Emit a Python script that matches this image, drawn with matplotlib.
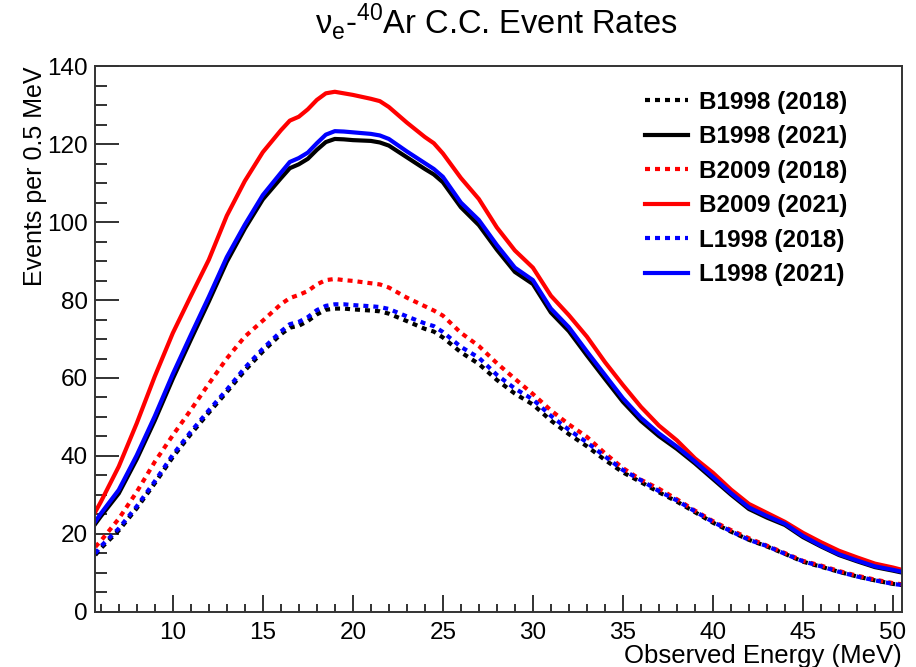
import matplotlib
matplotlib.use('Agg')
import matplotlib.pyplot as plt
from matplotlib.ticker import MultipleLocator

plt.rcParams['font.family'] = ['Liberation Sans', 'DejaVu Sans']
plt.rcParams['mathtext.fontset'] = 'custom'
plt.rcParams['mathtext.rm'] = 'Liberation Sans'

# observed energy (MeV)
energy = [5.7, 6, 7, 8, 9, 10, 11, 12, 13, 14, 15, 16, 16.5, 17, 17.5, 18, 18.5, 19, 19.5, 20,
          21, 21.5, 22, 23, 24, 24.5, 25, 26, 27, 28, 29, 30, 31, 32, 33, 34, 35, 36, 37, 38,
          39, 40, 41, 42, 43, 44, 45, 46, 47, 48, 49, 50, 50.5]

b1998_2018 = [14.6, 16.3, 20.9, 26.6, 33.0, 39.7, 45.6, 51.1, 56.4, 61.9, 66.8, 71.2, 72.9, 73.4, 74.6, 76.3, 77.5, 77.8, 77.8, 77.6,
              77.3, 77.1, 76.5, 74.6, 72.6, 71.9, 70.4, 66.6, 63.6, 59.5, 56.0, 53.2, 49.1, 45.6, 42.5, 39.0, 35.8, 33.3, 30.7, 28.3,
              25.6, 22.9, 20.6, 18.5, 16.8, 14.9, 12.9, 11.6, 10.3, 9.1, 8.1, 7.2, 6.9]
b1998_2021 = [22.6, 24.5, 30.4, 39.2, 49.1, 59.8, 69.8, 79.6, 89.8, 98.3, 105.8, 111.2, 113.8, 114.8, 116.2, 118.5, 120.5, 121.3, 121.2, 121.0,
              120.8, 120.4, 119.6, 116.6, 113.6, 112.2, 110.2, 103.8, 99.2, 92.9, 87.2, 84.1, 76.8, 72.0, 65.8, 59.8, 53.9, 49.0, 45.1, 41.8,
              38.1, 34.1, 30.1, 26.4, 24.2, 22.3, 19.2, 16.8, 14.6, 13.0, 11.5, 10.6, 10.1]
b2009_2018 = [16.7, 18.2, 23.9, 30.8, 38.5, 45.3, 51.8, 58.5, 65.0, 70.6, 74.7, 78.9, 80.5, 81.3, 82.3, 84.0, 85.1, 85.4, 85.1, 84.9,
              84.3, 84.0, 83.2, 80.6, 78.4, 77.3, 76.0, 71.6, 68.2, 63.8, 59.8, 55.9, 51.7, 48.1, 44.9, 40.7, 36.9, 33.9, 31.6, 28.9,
              26.0, 23.3, 21.0, 18.9, 17.0, 15.1, 13.1, 11.9, 10.5, 9.3, 8.3, 7.4, 7.1]
b2009_2021 = [25.7, 28.2, 37.3, 48.4, 60.4, 71.5, 81.0, 90.3, 101.6, 110.5, 117.9, 123.5, 126.0, 127.0, 128.9, 131.3, 133.0, 133.4, 133.0, 132.6,
              131.6, 131.0, 129.5, 125.5, 121.8, 120.2, 117.6, 111.3, 105.9, 98.6, 92.7, 88.3, 81.1, 76.1, 70.6, 64.1, 58.2, 52.6, 47.8, 44.0,
              39.4, 35.7, 31.4, 27.7, 25.4, 23.1, 20.3, 17.9, 15.7, 14.0, 12.4, 11.4, 10.8]
l1998_2018 = [15.0, 16.8, 21.4, 27.1, 33.5, 40.3, 46.2, 51.7, 57.0, 62.6, 67.5, 71.9, 73.8, 74.4, 75.6, 77.4, 78.5, 78.9, 78.9, 78.7,
              78.4, 78.2, 77.7, 75.8, 74.0, 73.3, 71.8, 68.0, 65.2, 60.8, 57.3, 54.5, 50.3, 46.7, 43.5, 39.9, 36.4, 33.8, 31.0, 28.6,
              25.8, 23.1, 20.7, 18.5, 16.9, 14.9, 13.0, 11.7, 10.3, 9.1, 8.1, 7.2, 6.9]
l1998_2021 = [23.2, 25.2, 31.3, 40.2, 50.2, 61.0, 71.0, 80.8, 91.0, 99.3, 106.9, 112.6, 115.4, 116.4, 117.8, 120.2, 122.4, 123.3, 123.2, 123.0,
              122.6, 122.2, 121.3, 118.1, 115.1, 113.6, 111.6, 105.0, 100.5, 94.1, 88.3, 85.1, 77.8, 73.0, 66.8, 60.8, 54.8, 49.8, 45.8, 42.4,
              38.6, 34.6, 30.5, 26.8, 24.6, 22.6, 19.5, 17.0, 14.8, 13.2, 11.7, 10.8, 10.3]

series = [
    ('B1998 (2018)', b1998_2018, 'black', 'dot'),
    ('B1998 (2021)', b1998_2021, 'black', 'solid'),
    ('B2009 (2018)', b2009_2018, 'red', 'dot'),
    ('B2009 (2021)', b2009_2021, 'red', 'solid'),
    ('L1998 (2018)', l1998_2018, 'blue', 'dot'),
    ('L1998 (2021)', l1998_2021, 'blue', 'solid'),
]

fig = plt.figure(figsize=(9.16, 6.67), dpi=100)
ax = fig.add_axes([0.1037, 0.0825, 0.8810, 0.8185])

for label, vals, col, style in series:
    ls = (0, (1.2, 1.2)) if style == 'dot' else '-'
    ax.plot(energy, vals, color=col, lw=3, linestyle=ls, label=label)

ax.set_xlim(5.68, 50.5)
ax.set_ylim(0, 140)

ax.xaxis.set_major_locator(MultipleLocator(5))
ax.xaxis.set_minor_locator(MultipleLocator(1))
ax.yaxis.set_major_locator(MultipleLocator(20))
ax.yaxis.set_minor_locator(MultipleLocator(5))
ax.tick_params(axis='both', which='both', direction='in', top=False, right=False,
               labelsize=17.5, width=1.3, color='#222222')
ax.tick_params(axis='y', which='major', length=17, pad=5)
ax.tick_params(axis='y', which='minor', length=8.5)
ax.tick_params(axis='x', which='major', length=12, pad=7)
ax.tick_params(axis='x', which='minor', length=6)
for sp in ax.spines.values():
    sp.set_linewidth(1.4)
    sp.set_color('#333333')

ax.set_xlabel('Observed Energy (MeV)', fontsize=18.5, loc='right', labelpad=0)
ax.set_ylabel('Events per 0.5 MeV', fontsize=18, loc='top', labelpad=0)

fig.text(0.542, 0.968, 'ν$_\\mathrm{e}$-$^\\mathrm{40}$Ar C.C. Event Rates', ha='center', va='center',
         fontsize=23.5)

leg = ax.legend(loc='upper left', bbox_to_anchor=(645 / 916, 1 - 91 / 667),
                bbox_transform=fig.transFigure, frameon=False, borderpad=0, borderaxespad=0,
                prop={'weight': 'bold', 'size': 17.5}, handlelength=1.77, handletextpad=0.45,
                labelspacing=0.47)

fig.savefig('out.png', dpi=100)
